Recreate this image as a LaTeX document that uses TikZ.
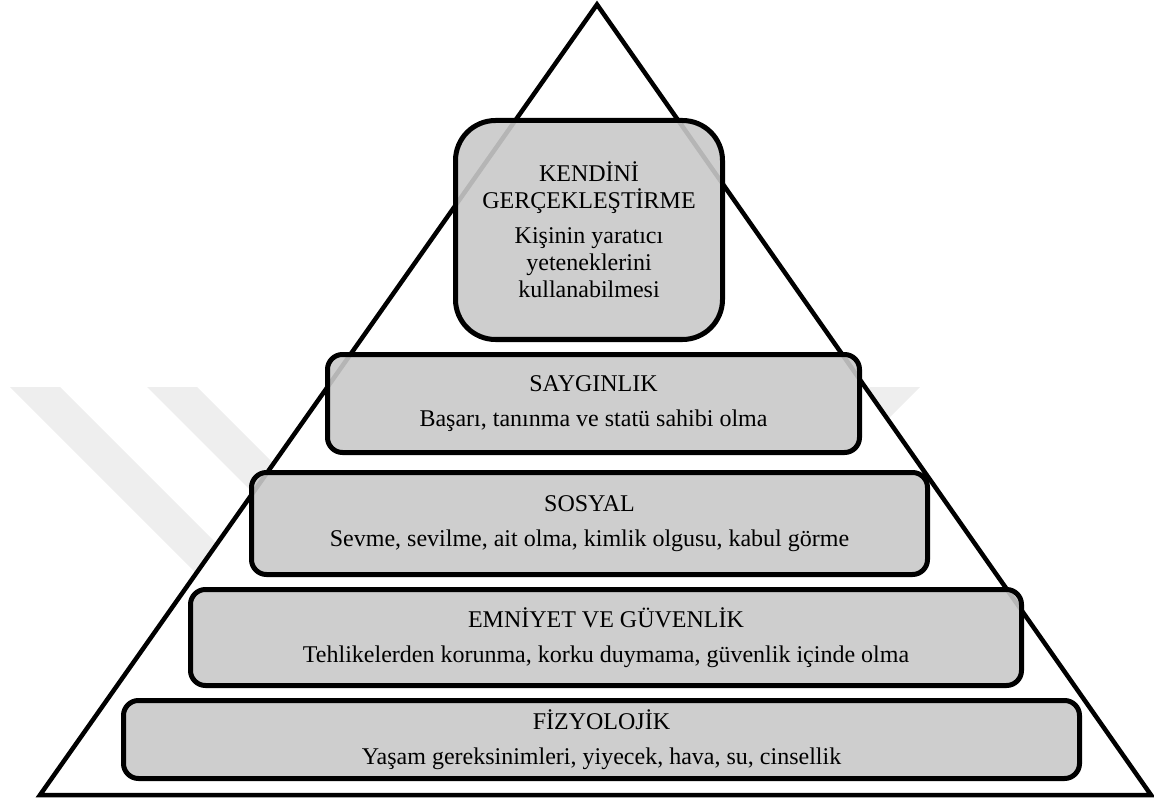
\documentclass[tikz,border=0pt]{standalone}
\usepackage{fontspec}
\setmainfont{Liberation Serif}
\definecolor{boxgray}{RGB}{201,201,201}
\definecolor{stripegray}{RGB}{238,238,238}
\begin{document}
\begin{tikzpicture}[x=1pt,y=-1pt,
  level/.style={draw=black, line width=5pt, rounded corners=15pt,
    fill=boxgray, fill opacity=0.9, text opacity=1, align=center,
    inner sep=0pt, font=\fontsize{24}{27}\selectfont},
  pyramid/.style={draw=black, line width=4.5pt, fill=white},
  stripe/.style={fill=stripegray}]
\useasboundingbox (0,0) rectangle (1154,802);

% faint background stripes
\fill[stripe] (10,387) -- (60,387) -- (360,687) -- (310,687) -- cycle;
\fill[stripe] (147,387) -- (197,387) -- (497,687) -- (447,687) -- cycle;
\fill[stripe] (870,387) -- (920,387) -- (620,687) -- (570,687) -- cycle;

% outline of the pyramid
\coordinate (top) at (597,4.5);
\coordinate (bl) at (40,795);
\coordinate (br) at (1151,795);
\draw[pyramid] (top) -- (br) -- (bl) -- cycle;

% the five levels
\node[level, rounded corners=40pt, minimum width=267pt, minimum height=219pt]
  (self) at (589,230)
  {KENDİNİ\\GERÇEKLEŞTİRME\\[8pt]Kişinin yaratıcı\\yeteneklerini\\kullanabilmesi};
\node[level, minimum width=532pt, minimum height=98pt]
  (esteem) at (593.5,403.5)
  {SAYGINLIK\\[8pt]Başarı, tanınma ve statü sahibi olma};
\node[level, minimum width=676pt, minimum height=102pt]
  (social) at (589.5,523.5)
  {SOSYAL\\[8pt]Sevme, sevilme, ait olma, kimlik olgusu, kabul görme};
\node[level, minimum width=831pt, minimum height=96pt]
  (safety) at (606,637.5)
  {EMNİYET VE GÜVENLİK\\[8pt]Tehlikelerden korunma, korku duymama, güvenlik içinde olma};
\node[level, minimum width=956pt, minimum height=78pt]
  (phys) at (601.5,739.5)
  {FİZYOLOJİK\\[8pt]Yaşam gereksinimleri, yiyecek, hava, su, cinsellik};
\end{tikzpicture}
\end{document}
